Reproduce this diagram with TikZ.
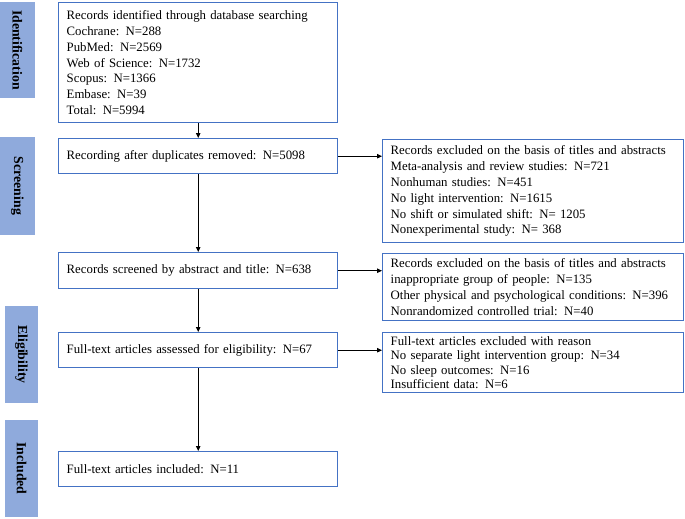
\documentclass[tikz,border=0pt]{standalone}
\usepackage{fontspec}
\setmainfont{Liberation Serif}
\usetikzlibrary{arrows.meta}
\definecolor{boxblue}{HTML}{4472C4}
\definecolor{labblue}{HTML}{8FAADC}
\begin{document}
\begin{tikzpicture}[x=1pt,y=-1pt,
  box/.style={draw=boxblue, line width=1.4pt, fill=white, anchor=north west, align=left,
    inner xsep=8pt, inner ysep=0pt, font=\fontsize{12.8}{15.8}\selectfont},
  lab/.style={fill=labblue, rotate=-90, inner sep=0pt, font=\fontsize{13.8}{16}\selectfont\bfseries},
  arr/.style={line width=1pt, -{Triangle[length=5pt,width=4.5pt]}}]
\useasboundingbox (0,0) rectangle (685,519);
% stage labels
\node[lab, minimum width=96pt, minimum height=35pt] (l1) at (17.5,50) {Identification};
\node[lab, minimum width=98pt, minimum height=35pt] (l2) at (17.5,186) {Screening};
\node[lab, minimum width=97pt, minimum height=33pt] (l3) at (21.5,354.5) {Eligibility};
\node[lab, minimum width=97pt, minimum height=33pt] (l4) at (21.5,468.5) {Included};
% main column
\node[box, minimum width=279pt, text width=263pt, minimum height=120pt] (b1) at (58,2) {Records identified through database searching\\
Cochrane: N=288\\
PubMed: N=2569\\
Web of Science: N=1732\\
Scopus: N=1366\\
Embase: N=39\\
Total: N=5994};
\node[box, minimum width=279pt, text width=263pt, minimum height=35pt] (b2) at (58,138) {Recording after duplicates removed: N=5098};
\node[box, minimum width=279pt, text width=263pt, minimum height=36pt] (b3) at (58,252) {Records screened by abstract and title: N=638};
\node[box, minimum width=279pt, text width=263pt, minimum height=35pt] (b4) at (58,332) {Full-text articles assessed for eligibility: N=67};
\node[box, minimum width=279pt, text width=263pt, minimum height=35pt] (b5) at (58,451) {Full-text articles included: N=11};
% exclusion column
\node[box, minimum width=301pt, text width=285pt, minimum height=103pt] (r1) at (382,139) {Records excluded on the basis of titles and abstracts\\
Meta-analysis and review studies: N=721\\
Nonhuman studies: N=451\\
No light intervention: N=1615\\
No shift or simulated shift: N= 1205\\
Nonexperimental study: N= 368};
\node[box, minimum width=301pt, text width=285pt, minimum height=67pt] (r2) at (382,253) {Records excluded on the basis of titles and abstracts\\
inappropriate group of people: N=135\\
Other physical and psychological conditions: N=396\\
Nonrandomized controlled trial: N=40};
\node[box, minimum width=301pt, text width=285pt, minimum height=60pt, font=\fontsize{12.8}{14.6}\selectfont] (r3) at (382,332) {Full-text articles excluded with reason\\
No separate light intervention group: N=34\\
No sleep outcomes: N=16\\
Insufficient data: N=6};
% connectors
\draw[arr] (b1) -- (b2);
\draw[arr] (b2) -- (b3);
\draw[arr] (b3) -- (b4);
\draw[arr] (b4) -- (b5);
\draw[arr] (b2.east) -- (b2.east -| r1.west);
\draw[arr] (b3.east) -- (b3.east -| r2.west);
\draw[arr] (b4.east) -- (b4.east -| r3.west);
\end{tikzpicture}
\end{document}
